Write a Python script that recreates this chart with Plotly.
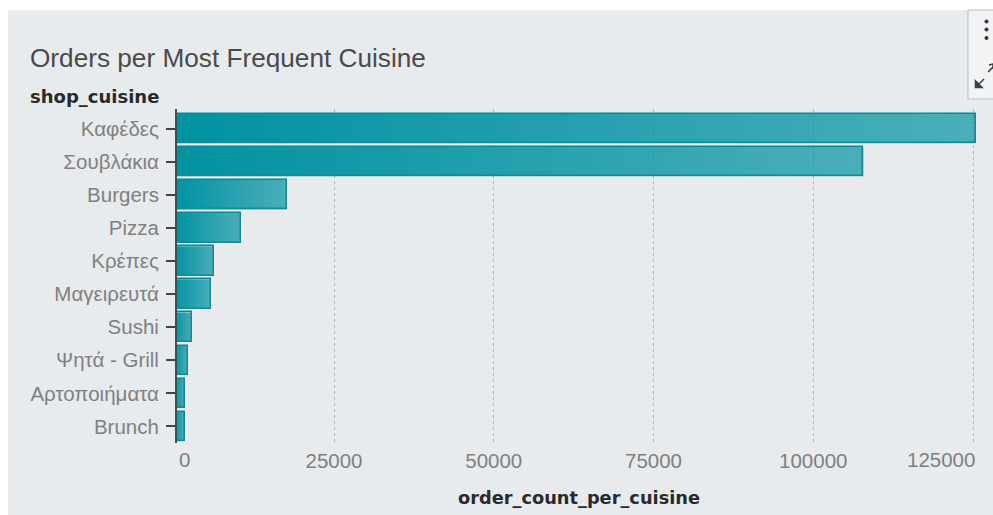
import plotly.graph_objects as go

categories = ["Καφέδες", "Σουβλάκια", "Burgers", "Pizza", "Κρέπες", "Μαγειρευτά", "Sushi", "Ψητά - Grill", "Αρτοποιήματα", "Brunch"]
order_counts = [125400, 107850, 17650, 10370, 6220, 5750, 2780, 2150, 1680, 1650]
x_ticks = [25000, 50000, 75000, 100000, 125000]
x_labels = ["25000", "50000", "75000", "100000", ""]

W, H = 993, 515
L, R, T, B = 177, 976, 109, 443
BAR_W = 0.89
GREY = "#e8ebee"
TEAL = "#0e8792"
px = lambda v: (v - L) / (R - L)
py = lambda v: (B - v) / (B - T)

fig = go.Figure()
for i, v in enumerate(order_counts):
    a, b = i - BAR_W / 2, i + BAR_W / 2
    fig.add_trace(go.Scatter(
        x=[0, v, v, 0, 0], y=[a, a, b, b, a], mode="lines", line=dict(width=0),
        fill="toself", hoverinfo="skip", showlegend=False,
        fillgradient=dict(type="horizontal",
                          colorscale=[[0, "rgba(0,146,161,1)"], [1, "rgba(0,146,161,0.68)"]]),
    ))
fig.add_trace(go.Bar(
    x=order_counts, y=list(range(len(categories))), orientation="h", width=BAR_W,
    marker=dict(color="rgba(0,0,0,0)", line=dict(color=TEAL, width=1.5)), showlegend=False,
))

def rect(x0, y0, x1, y1, fill, line=None):
    return dict(type="rect", xref="paper", yref="paper", x0=px(x0), x1=px(x1), y0=py(y0), y1=py(y1),
                fillcolor=fill, line=dict(color=line or fill, width=1 if line else 0), layer="below")

shapes = [rect(8, 10, 993, 515, GREY)]
toolbar = rect(968, 10, 996, 99, "#f2f3f5", "#b9bdc6")
toolbar["layer"] = "above"
shapes.append(toolbar)
for cy in (21.5, 29.5, 38):
    shapes.append(dict(type="circle", xref="paper", yref="paper", layer="above",
                       x0=px(984.5), x1=px(988.5), y0=py(cy + 2), y1=py(cy - 2),
                       fillcolor="#33383f", line=dict(width=0)))
def path(points):
    d = "M" + " L".join(f"{px(x)},{py(y)}" for x, y in points)
    return dict(type="path", xref="paper", yref="paper", path=d, layer="above",
                line=dict(color="#3c4148", width=1.6))
shapes.append(path([(976, 87), (984, 79)]))
arrow = path([(975.5, 81), (975.5, 87.5), (982, 87.5), (975.5, 81)])
arrow["path"] += " Z"
arrow["fillcolor"] = "#3c4148"
shapes.append(arrow)
shapes.append(path([(988, 72), (993, 67)]))
shapes.append(path([(989, 65), (993, 64), (993, 69)]))

TICK_FONT = dict(family="Liberation Sans", size=20.5, color="#808080")
ann = [
    dict(x=px(177), y=py(459), xref="paper", yref="paper", text="0", xanchor="left", yanchor="middle",
         showarrow=False, font=TICK_FONT),
    dict(x=125000, y=py(459), xref="x", yref="paper", text="125000", xanchor="right", yanchor="middle",
         showarrow=False, font=TICK_FONT, xshift=4),
    dict(x=px(28), y=py(58), xref="paper", yref="paper", text="Orders per Most Frequent Cuisine", xanchor="left",
         yanchor="middle", showarrow=False, font=dict(family="Liberation Sans", size=26.2, color="#4a4a4a")),
    dict(x=px(28), y=py(96.5), xref="paper", yref="paper", text="<b>shop_cuisine</b>", xanchor="left",
         yanchor="middle", showarrow=False, font=dict(family="DejaVu Sans", size=18, color="#2a2a2a")),
    dict(x=px(579), y=py(497), xref="paper", yref="paper", text="<b>order_count_per_cuisine</b>", xanchor="center",
         yanchor="middle", showarrow=False, font=dict(family="DejaVu Sans", size=17.8, color="#2a2a2a")),
]

fig.update_layout(
    width=W, height=H, margin=dict(l=L, r=W - R, t=T, b=H - B, autoexpand=False),
    paper_bgcolor="white", plot_bgcolor=GREY, bargap=0, shapes=shapes, annotations=ann,
    xaxis=dict(range=[430, 125470], tickmode="array", tickvals=x_ticks, ticktext=x_labels,
               showgrid=True, griddash="dot", gridcolor="#b0b5ba", gridwidth=1, zeroline=False,
               showline=False, ticks="", ticklabelstandoff=3, tickfont=TICK_FONT),
    yaxis=dict(range=[9.5, -0.59], tickmode="array", tickvals=list(range(len(categories))), ticktext=categories,
               showgrid=False, zeroline=False, showline=True, linecolor="#4a4a4a", linewidth=2, layer="above traces",
               ticks="outside", ticklen=9, tickwidth=1.5, tickcolor="#444444", ticklabelstandoff=3,
               tickfont=TICK_FONT),
    showlegend=False,
)
fig.write_html("out.html", config=dict(displayModeBar=False),
               post_script="document.body.style.margin='0';document.documentElement.style.overflow='hidden';")
